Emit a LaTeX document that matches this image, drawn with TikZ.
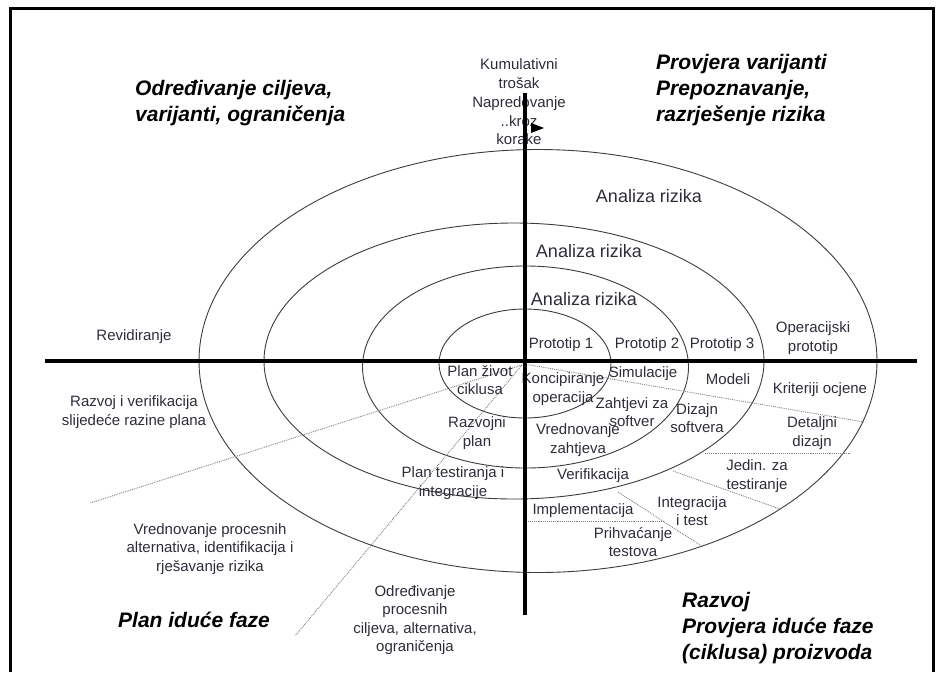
\documentclass[tikz,border=0pt]{standalone}
\usepackage{fontspec}
\setmainfont{Liberation Sans}
\definecolor{txtc}{RGB}{45,45,58}
\definecolor{ellc}{RGB}{60,60,60}
\begin{document}
\begin{tikzpicture}[x=1pt,y=-1pt,
  txt/.style={font=\fontsize{15}{18.5}\selectfont, text=txtc, align=center, inner sep=0pt},
  big/.style={font=\fontsize{18}{22}\selectfont, text=txtc, inner sep=0pt},
  head/.style={font=\fontsize{21}{26}\selectfont\bfseries\itshape, text=black, align=left, inner sep=0pt, anchor=west},
  ell/.style={draw=ellc, line width=0.9pt},
  axisline/.style={line width=3.5pt, black},
  dots/.style={draw=gray, densely dotted, line width=0.9pt}]
\useasboundingbox (0,0) rectangle (944,672);
\draw[line width=3pt] (10,672) -- (10,8) -- (933,8) -- (933,672);

% ellipses
\draw[ell] (538,361) ellipse [x radius=339, y radius=211.5];
\draw[ell] (514,361) ellipse [x radius=250, y radius=138];
\draw[ell] (525.5,367) ellipse [x radius=163, y radius=101];
\draw[ell] (525,363.5) ellipse [x radius=86, y radius=54.5];

% dotted dividers
\coordinate (c0) at (522,365);
\coordinate (c1) at (524,364);
\coordinate (d1) at (90,503);
\coordinate (d2) at (295,636);
\coordinate (d3) at (864,422);
\coordinate (h1a) at (705,453); \coordinate (h1b) at (850,453);
\coordinate (s1a) at (673,471); \coordinate (s1b) at (780,509);
\coordinate (s2a) at (618,492); \coordinate (s2b) at (703,547);
\coordinate (h2a) at (528,521); \coordinate (h2b) at (664,521);
\draw[dots] (c0) -- (d1);
\draw[dots] (c0) -- (d2);
\draw[dots] (c1) -- (d3);
\draw[dots] (h1a) -- (h1b);
\draw[dots] (s1a) -- (s1b);
\draw[dots] (s2a) -- (s2b);
\draw[dots] (h2a) -- (h2b);

% headings
\node[head] (hA) at (135,103) {Određivanje ciljeva,\\varijanti, ograničenja};
\node[head] (hB) at (656,90) {Provjera varijanti\\Prepoznavanje,\\razrješenje rizika};
\node[head] (hC) at (118,620) {Plan iduće faze};
\node[head] (hD) at (682,628) {Razvoj\\Provjera iduće faze\\(ciklusa) proizvoda};

% texts
\node[txt, font=\fontsize{15}{18.75}\selectfont] (kum) at (519,102) {Kumulativni\\trošak\\Napredovanje\\..kroz\\korake};
\node[big] (ar1) at (649,196) {Analiza rizika};
\node[big] (ar2) at (589,251) {Analiza rizika};
\node[big] (ar3) at (584,299) {Analiza rizika};
\node[txt] (rev) at (134,337) {Revidiranje};
\node[txt] (p1) at (561,345) {Prototip 1};
\node[txt] (p2) at (647,345) {Prototip 2};
\node[txt] (p3) at (722,345) {Prototip 3};
\node[txt] (op) at (813,338) {Operacijski\\prototip};
\node[txt] (pzc) at (480,380) {Plan život\\ciklusa};
\node[txt] (kop) at (563,389) {Koncipiranje\\operacija};
\node[txt] (sim) at (643,374) {Simulacije};
\node[txt] (zah) at (632,412) {Zahtjevi za\\softver};
\node[txt] (mod) at (728,379) {Modeli};
\node[txt] (kri) at (820,390) {Kriteriji ocjene};
\node[txt] (diz) at (697,418) {Dizajn\\softvera};
\node[txt] (det) at (812,433) {Detaljni\\dizajn};
\node[txt] (rp) at (477,433) {Razvojni\\plan};
\node[txt] (vz) at (578,440) {Vrednovanje\\zahtjeva};
\node[txt] (rvs) at (134,412) {Razvoj i verifikacija\\slijedeće razine plana};
\node[txt] (pti) at (453,483) {Plan testiranja i\\integracije};
\node[txt] (ver) at (593,476) {Verifikacija};
\node[txt] (jzt) at (757,476) {Jedin. za\\testiranje};
\node[txt] (iit) at (692,511) {Integracija\\i test};
\node[txt] (imp) at (583,511) {Implementacija};
\node[txt] (pt) at (633,542) {Prihvaćanje\\testova};
\node[txt] (vpa) at (210,549) {Vrednovanje procesnih\\alternativa, identifikacija i\\rješavanje rizika};
\node[txt] (opc) at (415,620) {Određivanje\\procesnih\\ciljeva, alternativa,\\ograničenja};

% axes (drawn over text)
\draw[axisline] (45,361) -- (917,361);
\draw[axisline] (525,93) -- (525,615);
\fill (531,123) -- (544,128) -- (531,133) -- cycle;
\end{tikzpicture}
\end{document}
